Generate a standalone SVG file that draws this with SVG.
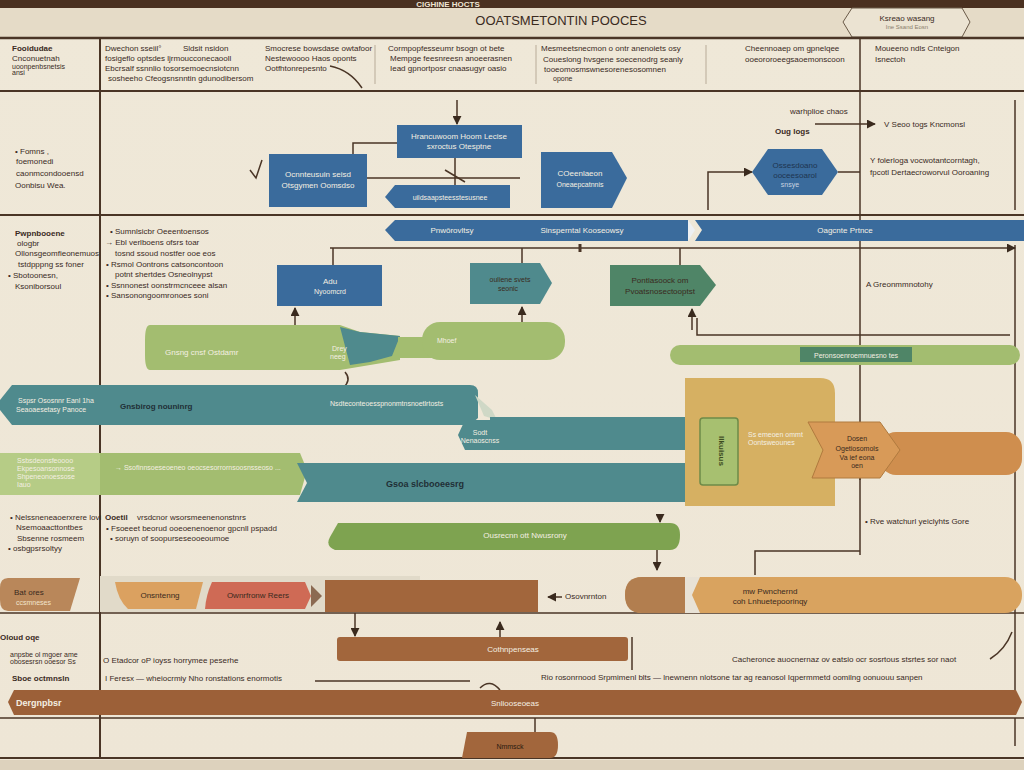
<svg xmlns="http://www.w3.org/2000/svg" width="1024" height="770" viewBox="0 0 1024 770">
<defs>
<linearGradient id="bg" x1="0" y1="0" x2="0" y2="1"><stop offset="0" stop-color="#efe8d8"/><stop offset="1" stop-color="#eee6d6"/></linearGradient>
<marker id="ah" viewBox="0 0 10 10" refX="9" refY="5" markerWidth="6" markerHeight="6" orient="auto-start-reverse"><path d="M0,0 L10,5 L0,10 z" fill="#3a2a1e"/></marker>
<style>
text{font-family:"Liberation Sans",Arial,sans-serif;fill:#3a2a1e}
.s{font-size:8px}
.xs{font-size:7px}
.m{font-size:9px}
.w{fill:#f4efe2}
.b{font-weight:bold}
.ln{stroke:#4a3526;fill:none}
.blue{fill:#3a6b9c}
.teal{fill:#4f8a8d}
.lg{fill:#a3bd70}
.dg{fill:#4f8567}
.tan{fill:#d6b062}
.or{fill:#d89a58}
.br{fill:#a2663c}
.red{fill:#cf6a55}
.c{text-anchor:middle}
</style>
</defs>
<rect width="1024" height="770" fill="url(#bg)"/>
<rect x="0" y="7" width="1024" height="31" fill="#e5dbc7"/>
<rect x="0" y="760" width="1024" height="10" fill="#ddd2bd"/>
<rect x="0" y="0" width="1024" height="8" fill="#4a3020"/>
<text x="448" y="7" class="c b" style="font-size:8px;fill:#efe6d4">CIGHINE HOCTS</text>
<text x="561" y="25" class="c" style="font-size:13px">OOATSMETONTIN POOCES</text>
<g id="banner">
<polygon points="843,22 852,8 962,8 970,22 962,37 852,37" fill="#ebe3d2" stroke="#6a5a48" stroke-width="1"/>
<text x="907" y="21" class="c s">Ksreao wasang</text>
<text x="907" y="29" class="c" style="font-size:6px;fill:#8a7d6c">Ine Ssand Eosn</text>
</g>

<g id="grid" class="ln">
<line x1="0" y1="38" x2="1024" y2="38" stroke-width="2.5"/>
<line x1="0" y1="91" x2="1024" y2="91" stroke-width="2"/>
<line x1="0" y1="215" x2="1024" y2="215" stroke-width="2"/>
<line x1="0" y1="613" x2="1024" y2="613" stroke-width="1.5"/>
<line x1="0" y1="718" x2="1024" y2="718" stroke-width="1.5"/>
<line x1="0" y1="758" x2="1024" y2="758" stroke-width="2"/>
<line x1="100" y1="38" x2="100" y2="758" stroke-width="2"/>
<line x1="860" y1="38" x2="860" y2="555" stroke-width="1.5"/>
<line x1="1015" y1="100" x2="1015" y2="210" stroke-width="1.5"/>
<line x1="1015" y1="245" x2="1015" y2="690" stroke-width="1.5"/>
<line x1="1015" y1="718" x2="1015" y2="746" stroke-width="1.5"/>
<line x1="375" y1="45" x2="375" y2="84" stroke="#b8ab98" stroke-width="1"/>
<line x1="536" y1="45" x2="536" y2="84" stroke="#b8ab98" stroke-width="1"/>
<line x1="706" y1="45" x2="706" y2="84" stroke="#b8ab98" stroke-width="1"/>
</g>

<g id="header-text">
<text x="12" y="51" class="s b">Fooidudae</text>
<text x="12" y="61" class="s">Cnconuetnah</text>
<text x="12" y="69" class="xs">uoonpenbsnetsis</text>
<text x="12" y="75" class="xs">ansi</text>
<text x="105" y="51" class="s">Dwechon sseiil°</text>
<text x="183" y="51" class="s">Sldsit nsidon</text>
<text x="105" y="61" class="s">fosigeflo optsdes ljrmoucconecaooll</text>
<text x="105" y="71" class="s">Ebcrsalf ssnnlio tosorsemoecnsiotcnn</text>
<text x="108" y="81" class="s">sosheeho Cfeogsnsnntin gdunodibersom</text>
<text x="265" y="51" class="s">Smocrese bowsdase owtafoor</text>
<text x="265" y="61" class="s">Nestewoooo Haos oponts</text>
<text x="265" y="71" class="s">Ootfhtonrepesnto</text>
<text x="388" y="51" class="s">Cormpopfesseumr bsogn ot bete</text>
<text x="390" y="61" class="s">Mempge feesnreesn anoeerasnen</text>
<text x="390" y="71" class="s">Iead gpnortposr cnaasugyr oasio</text>
<text x="541" y="51" class="s">Mesmeetsnecmon o ontr anenoiets osy</text>
<text x="543" y="62" class="s">Coueslong hvsgene soecenodrg seanly</text>
<text x="544" y="72" class="s">tooeomosmswnesorenesosomnen</text>
<text x="553" y="81" class="xs">opone</text>
<text x="745" y="51" class="s">Cheennoaep om gpnelqee</text>
<text x="745" y="62" class="s">ooeororoeegsaoemonscoon</text>
<text x="875" y="51" class="s">Moueeno ndls Cnteigon</text>
<text x="875" y="62" class="s">Isnectoh</text>
</g>

<g id="side-text">
<text x="15" y="154" class="s">• Fomns ,</text>
<text x="16" y="164" class="s">foemonedi</text>
<text x="16" y="176" class="s">caonmcondooensd</text>
<text x="15" y="188" class="s">Oonbisu Wea.</text>
<text x="15" y="236" class="s b">Pwpnbooene</text>
<text x="17" y="246" class="s">ologbr</text>
<text x="15" y="256" class="s">Ollonsgeomfieonemuos</text>
<text x="18" y="267" class="s">tstdpppng ss foner</text>
<text x="8" y="278" class="s">• Sbotoonesn,</text>
<text x="15" y="289" class="s">Ksoniborsoul</text>
<text x="110" y="234" class="s">• Sumnlsicbr Oeeentoensos</text>
<text x="105" y="245" class="s">→ Ebl verlboens ofsrs toar</text>
<text x="115" y="256" class="s">tosnd ssoud nostfer ooe eos</text>
<text x="106" y="267" class="s">• Rsmol Oontrons catsoncontoon</text>
<text x="115" y="277" class="s">potnt shertdes Osneolnypst</text>
<text x="106" y="288" class="s">• Ssnnonest oonstrmcnceee alsan</text>
<text x="106" y="298" class="s">• Sansonongoomronoes soni</text>
<text x="10" y="520" class="s">• Nelssneneaoerxrere lovi</text>
<text x="16" y="530" class="s">Nsemoaacttontbes</text>
<text x="17" y="541" class="s">Sbsenne rosmeem</text>
<text x="8" y="551" class="s">• osbgpsrsoltyy</text>
<text x="105" y="520" class="s b">Ooetil</text>
<text x="137" y="520" class="s">vrsdcnor wsorsmeenenonstnrs</text>
<text x="106" y="531" class="s">•  Fsoeeet beorud ooeoenenoenor gpcnll pspadd</text>
<text x="110" y="541" class="s">• soruyn of soopurseseooeoumoe</text>
<text x="0" y="640" class="s b">Oloud oqe</text>
<text x="10" y="657" class="xs">anpsbe ol mgoer ame</text>
<text x="10" y="664" class="xs">obosesrsn ooesor Ss</text>
<text x="103" y="663" class="s">O Etadcor oP ioyss horrymee peserhe</text>
<text x="12" y="681" class="s b">Sboe octmnsln</text>
<text x="105" y="681" class="s">I Feresx  —  wheiocrmiy  Nho ronstations enormotis</text>
<text x="732" y="662" class="s">Cacheronce auocnernaz ov eatsio ocr sosrtous stsrtes sor naot</text>
<text x="541" y="680" class="s">Rio rosonrnood  Srpmimenl blts — lnewnenn nlotsone tar ag reanosol Iqpermmetd oomilng oonuouu sanpen</text>
<text x="790" y="114" class="s">warhplioe chaos</text>
<text x="775" y="134" class="s b">Oug logs</text>
<text x="884" y="127" class="s">V Seoo togs Kncmonsl</text>
<text x="870" y="163" class="s">Y folerloga vocwotantcorntagh,</text>
<text x="870" y="175" class="s">fpcotl Dertaecroworvul Ooroaning</text>
<text x="866" y="287" class="s">A Greonmmnotohy</text>
<text x="865" y="524" class="s">• Rve watchurl yeiclyhts Gore</text>
</g>

<g id="connectors" class="ln" stroke-width="1.5">
<path d="M457,100 V124" marker-end="url(#ah)"/>
<path d="M397,143 H353 V154"/>
<path d="M367,178 H520"/>
<path d="M455,158 V185 M445,170 L465,182"/>
<path d="M250,170 L256,178 L262,160"/>
<path d="M330,66 Q350,70 362,88"/>
<path d="M815,124 H875" marker-end="url(#ah)"/>
<path d="M752,172 H708 V210" marker-start="url(#ah)"/>
<path d="M838,172 H860"/>
<path d="M330,248 H1015" marker-end="url(#ah)"/>
<path d="M333,248 V265"/>
<path d="M522,248 V263"/>
<path d="M680,248 V265"/>
<path d="M580,244 V252" stroke-width="3"/>
<path d="M295,328 V308" marker-end="url(#ah)"/>
<path d="M522,322 V307" marker-end="url(#ah)"/>
<path d="M692,330 V309" marker-end="url(#ah)"/>
<path d="M697,318 V335 H1010"/>
<path d="M345,372 Q352,380 343,388"/>
<path d="M660,515 V522" marker-end="url(#ah)"/>
<path d="M657,550 V570" marker-end="url(#ah)"/>
<path d="M755,575 V551 H860"/>
<path d="M860,480 V470" marker-end="url(#ah)"/>
<path d="M355,613 V636" marker-end="url(#ah)"/>
<path d="M500,640 V622" marker-end="url(#ah)"/>
<path d="M562,597 H548" marker-end="url(#ah)"/>
<path d="M315,681 H470"/>
<path d="M632,637 V670"/>
<path d="M990,659 Q1005,650 1012,632"/>
<path d="M480,688 Q490,678 500,690"/>
<path d="M535,718 V732"/>
</g>

<g id="n-hranc"><rect x="397" y="125" width="125" height="33" class="blue"/>
<text x="459" y="139" class="c s w">Hrancuwoom Hoom Lecise</text><text x="459" y="149" class="c s w">sxroctus Otesptne</text></g>
<g id="n-ocnnt"><rect x="269" y="154" width="98" height="53" class="blue"/>
<text x="318" y="177" class="c s w">Ocnnteusuin seisd</text><text x="318" y="188" class="c s w">Otsgymen Oomsdso</text></g>
<g id="n-coeen"><polygon points="541,152 612,152 627,178 612,208 541,208" class="blue"/>
<text x="580" y="176" class="c s w">COeenlaeon</text><text x="580" y="187" class="c xs w">Oneaepcatnnis</text></g>
<g id="n-uilds"><polygon points="395,185 510,185 510,208 395,208 385,197" class="blue"/>
<text x="450" y="200" class="c xs w">uildsaapsteesstesusnee</text></g>
<g id="n-osses"><polygon points="752,172 768,149 822,149 838,172 822,195 768,195" class="blue"/>
<text x="795" y="168" class="c s" style="fill:#1e3550">Ossesdoano</text><text x="795" y="178" class="c s" style="fill:#1e3550">ooceesoarol</text><text x="790" y="187" class="c xs" style="fill:#c9d4e0">snsye</text></g>
<g id="n-band"><polygon points="395,220 688,220 688,241 395,241 385,230" class="blue"/>
<polygon points="688,220 695,230 688,241" fill="#eef0f2"/>
<polygon points="695,220 1024,220 1024,241 695,241 702,230" class="blue"/>
<text x="452" y="233" class="c s w">Pnwôrovltsy</text><text x="582" y="233" class="c s w">Sinsperntal Kooseowsy</text><text x="845" y="233" class="c s w">Oagcnte Prtnce</text></g>
<g id="n-adu"><rect x="277" y="265" width="105" height="41" class="blue"/>
<text x="330" y="284" class="c s w">Adu</text><text x="330" y="294" class="c xs w">Nyoomcrd</text></g>
<g id="n-oulie"><polygon points="470,263 540,263 552,283 540,304 470,304" class="teal"/>
<text x="510" y="282" class="c xs">ouliene svets</text><text x="508" y="291" class="c xs">seonic</text></g>
<g id="n-pontl"><polygon points="610,265 700,265 716,285 700,306 610,306" class="dg"/>
<text x="660" y="283" class="c s">Pontlasoock om</text><text x="660" y="294" class="c s">Pvoatsnosectooptst</text></g>
<g id="n-gnsng"><path d="M150,325 H340 L360,332 L400,336 L400,360 L340,370 H150 Q145,370 145,355 V340 Q145,325 150,325 Z" class="lg"/>
<path d="M340,327 L360,332 L400,336 L392,356 L370,362 L350,365 Z" class="teal"/>
<rect x="398" y="337" width="40" height="21" class="lg"/>
<rect x="422" y="322" width="143" height="38" rx="18" class="lg"/>
<text x="165" y="355" class="s w">Gnsng cnsf Ostdamr</text>
<text x="332" y="351" class="xs w">Drey</text><text x="330" y="359" class="xs w">neeg</text>
<text x="437" y="343" class="xs w">Mhoef</text></g>
<g id="n-peron"><rect x="670" y="345" width="350" height="20" rx="10" class="lg"/>
<rect x="800" y="347" width="112" height="15" fill="#4f8567"/>
<text x="856" y="358" class="c xs w">Peronsoenroemnuesno tes</text></g>
<g id="n-gnsbir"><path d="M12,385 H470 Q478,385 478,393 V418 L470,425 H12 L0,410 V400 Z" class="teal"/>
<path d="M475,395 L492,410 L497,420 L484,416 Z" fill="#cfd8c6"/>
<text x="18" y="403" class="xs w">Sspsr Ososnnr Eanl 1ha</text><text x="16" y="412" class="xs w">Seaoaesetasy Panoce</text>
<text x="120" y="409" class="s b" style="fill:#1f2f36">Gnsbirog nouninrg</text>
<text x="330" y="406" class="xs w">Nsdteconteoesspnonmtnsnoetlrtosts</text></g>
<g id="n-sodt"><polygon points="465,420 500,420 500,450 465,450 458,435" class="teal"/>
<polygon points="490,417 685,417 697,433 685,450 490,450" class="teal"/>
<text x="480" y="435" class="c xs w">Sodt</text><text x="480" y="443" class="c xs w">Nenaoscnss</text></g>
<g id="n-green2"><path d="M5,453 H300 L307,470 L300,495 H5 Q0,495 0,485 V460 Q0,453 5,453 Z" class="lg"/>
<rect x="0" y="453" width="100" height="42" fill="#b6cc86"/>
<text x="17" y="463" class="xs w">Ssbsdeonsfeoooo</text><text x="17" y="471" class="xs w">Ekpesoansonnose</text><text x="17" y="479" class="xs w">Shpeneonoessose</text><text x="17" y="487" class="xs w">Iauo</text>
<text x="115" y="470" class="xs w">→ Ssofinnsoeseoeneo oeocsesorrornsoosnsseoso  ...</text></g>
<g id="n-gsoa"><polygon points="297,463 685,463 697,483 685,502 297,502 307,483" class="teal"/>
<text x="425" y="487" class="c m b" style="fill:#1f2f36">Gsoa slcbooeesrg</text></g>
<g id="n-tanbox"><path d="M685,378 H820 Q835,378 835,393 V506 H685 Z" class="tan"/>
<rect x="700" y="418" width="38" height="67" rx="3" fill="#a7c070" stroke="#6e8a48" stroke-width="1.5"/>
<text x="719" y="451" class="c s b" transform="rotate(90 719 451)" style="fill:#3b4a20">Ilkuisus</text>
<text x="748" y="437" class="xs w">Ss emeoen ommt</text><text x="748" y="445" class="xs w">Oontsweounes</text></g>
<g id="n-dosen"><rect x="880" y="432" width="142" height="43" rx="16" fill="#cf8e4e"/>
<polygon points="808,422 880,422 900,450 880,478 812,478 823,450" class="or" stroke="#b07a3e" stroke-width="1"/>
<text x="857" y="441" class="c xs">Dosen</text><text x="857" y="451" class="c xs">Ogetiosomols</text><text x="857" y="460" class="c xs">Va ief eona</text><text x="857" y="468" class="c xs">oen</text></g>
<g id="n-ousrec"><path d="M338,523 H670 Q680,523 680,535 Q680,550 670,550 H335 Q325,546 330,537 Z" fill="#7ea350"/>
<text x="525" y="538" class="c s w">Ousrecnn ott Nwusrony</text></g>
<g id="n-row1"><rect x="100" y="576" width="320" height="36" fill="#e1dac9"/>
<path d="M8,578 H80 L70,611 H8 Q0,611 0,600 V588 Q0,578 8,578 Z" fill="#b9875a"/>
<text x="14" y="595" class="s">Bat  ores</text><text x="16" y="605" class="xs" style="fill:#f2e4cc">ccsmneses</text>
<path d="M115,582 H203 L196,609 H128 Q118,600 115,582 Z" fill="#dba160"/>
<text x="160" y="598" class="c s">Onsntenng</text>
<path d="M212,582 H305 L311,596 L305,609 H205 Q206,595 212,582 Z" class="red"/>
<text x="258" y="598" class="c s">Ownrfronw Reers</text>
<polygon points="311,585 322,596 311,607" fill="#8b6a52"/>
<rect x="325" y="580" width="213" height="32" class="br"/>
<text x="565" y="599" class="s">Osovnrnton</text></g>
<g id="n-mw"><rect x="625" y="577" width="397" height="36" rx="17" fill="#d9a35f"/>
<path d="M642,577 H685 V613 H642 Q625,613 625,595 Q625,577 642,577 Z" fill="#b27e4f"/>
<polygon points="685,577 700,577 692,595 700,613 685,613" fill="#e8e2d6"/>
<text x="770" y="594" class="c s">mw Pwnchernd</text><text x="770" y="604" class="c s">coh Lnhuetepoorinqy</text></g>
<g id="n-cothn"><rect x="337" y="637" width="291" height="24" rx="3" class="br"/>
<text x="513" y="652" class="c s w">Cothnpenseas</text></g>
<g id="n-dergn"><polygon points="14,690 1016,690 1022,702 1016,715 14,715 8,702" fill="#9c6038"/>
<text x="16" y="706" class="m b w">Dergnpbsr</text><text x="515" y="706" class="c s w">Snliooseoeas</text></g>
<g id="n-nmmsck"><path d="M467,732 H550 Q558,732 558,745 Q558,758 550,758 H462 Z" class="br"/>
<text x="510" y="749" class="c xs" style="fill:#2a1a10">Nmmsck</text></g>
</svg>
